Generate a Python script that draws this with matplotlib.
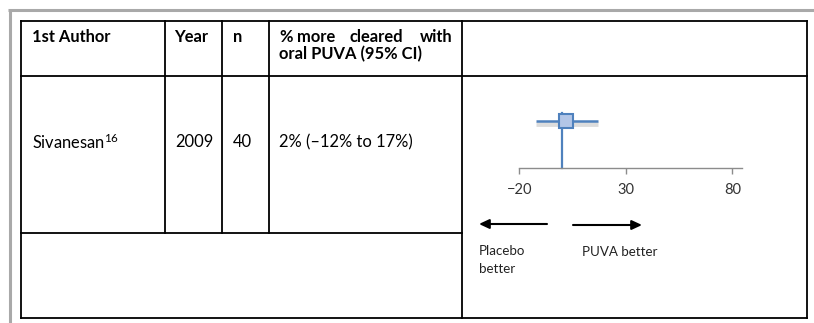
import matplotlib
matplotlib.use("Agg")
import matplotlib.pyplot as plt
import matplotlib.transforms as mtransforms

plt.rcParams["font.family"] = ["Lato", "DejaVu Sans"]
plt.rcParams["mathtext.fontset"] = "custom"
plt.rcParams["mathtext.rm"] = "Lato"

# Table content
header_author = "1st Author"
header_year = "Year"
header_n = "n"
header_effect = ["% more cleared with", "oral PUVA (95% CI)"]
authors = ["Sivanesan"]
author_refs = ["16"]
years = ["2009"]
sizes = ["40"]
effect_text = ["2% (\u201312% to 17%)"]

# Forest plot values (percent more cleared)
estimates = [2]
ci_low = [-12]
ci_high = [17]
null_value = 0
x_ticks = [-20, 30, 80]
x_limits = (-20, 84.4)
left_label = "Placebo\nbetter"
right_label = "PUVA better"

W, H = 814, 323
fig = plt.figure(figsize=(W / 100, H / 100), dpi=100)
fig.patch.set_facecolor("white")

# Full-figure canvas in pixel units for the table grid
tab = fig.add_axes([0, 0, 1, 1])
tab.set_xlim(0, W)
tab.set_ylim(H, 0)
tab.axis("off")

gray = "#a9a9a9"
tab.plot([8, W], [10, 10], color=gray, lw=2.2, solid_capstyle="butt")
tab.plot([9.5, 9.5], [9, H], color=gray, lw=2.2, solid_capstyle="butt")

cols = [21.3, 164.7, 221.7, 269.3, 461.7, 807.0]
rows = [21.3, 75.5, 232.7, 318.0]
lw_grid = 1.3
kw = dict(color="black", lw=lw_grid, solid_capstyle="projecting")
# outer frame
tab.plot([cols[0], cols[-1]], [rows[0], rows[0]], **kw)
tab.plot([cols[0], cols[-1]], [rows[-1], rows[-1]], **kw)
tab.plot([cols[0], cols[0]], [rows[0], rows[-1]], **kw)
tab.plot([cols[-1], cols[-1]], [rows[0], rows[-1]], **kw)
# header rule
tab.plot([cols[0], cols[-1]], [rows[1], rows[1]], **kw)
# data row bottom (left block only; plot cell spans two rows)
tab.plot([cols[0], cols[4]], [rows[2], rows[2]], **kw)
# column rules
for cx in cols[1:4]:
    tab.plot([cx, cx], [rows[0], rows[2]], **kw)
tab.plot([cols[4], cols[4]], [rows[0], rows[-1]], **kw)

fs = 11.9
hdr = dict(fontsize=fs, fontweight="bold", va="center", color="black")
tab.text(32, 36.5, header_author, ha="left", **hdr)
tab.text(174, 36.5, header_year, ha="left", **hdr)
tab.text(233, 36.5, header_n, ha="left", **hdr)
# justified first header line
words = header_effect[0].split(" ")
word_x = [279.3, 297.0, 349.5, 452.3]
word_ha = ["left", "left", "left", "right"]
for wx, wd, h in zip(word_x, words, word_ha):
    tab.text(wx, 36.5, wd, ha=h, **hdr)
tab.text(279.3, 54.5, header_effect[1], ha="left", **hdr)

body = dict(fontsize=fs, va="center", ha="left", color="black")
row_y = [142]
for i, y in enumerate(row_y):
    tab.text(32, y, authors[i] + r"$\mathregular{^{" + author_refs[i] + "}}$", **body)
    tab.text(175, y, years[i], **body)
    tab.text(233, y, sizes[i], **body)
    tab.text(279.3, y, effect_text[i], **body)

# Direction arrows and captions
arrow_kw = dict(arrowstyle="-|>,head_length=0.6,head_width=0.28", color="black", lw=1.5,
                shrinkA=0, shrinkB=0)
tab.annotate("", xy=(479, 224), xytext=(547, 224), arrowprops=arrow_kw)
tab.annotate("", xy=(642, 225), xytext=(573, 225), arrowprops=arrow_kw)
small = dict(fontsize=9.6, va="center", ha="left", color="#222222", linespacing=1.65)
tab.text(479, 260, left_label, **small)
tab.text(582, 251.5, right_label, **small)

# Forest plot
x0, x1 = 519.3, 741.7
y_axis, y_top = 167.7, 113.0
ax = fig.add_axes([x0 / W, (H - y_axis) / H, (x1 - x0) / W, (y_axis - y_top) / H])
ax.set_xlim(*x_limits)
ax.set_ylim(0, 1)
ax.patch.set_alpha(0)
for s in ["top", "right", "left"]:
    ax.spines[s].set_visible(False)
ax.spines["bottom"].set_color("#8c8c8c")
ax.spines["bottom"].set_linewidth(1.0)
ax.set_yticks([])
ax.set_xticks(x_ticks)
ax.set_xticklabels([f"{t}".replace("-", "\u2212") for t in x_ticks])
ax.tick_params(axis="x", direction="out", length=4, width=1.0, color="#8c8c8c",
               labelsize=10.5, labelcolor="#333333", pad=7)

blue = "#4f81bd"
ax.plot([null_value, null_value], [0, 1], color=blue, lw=1.6, clip_on=False)

row_pos = [0.854]
shadow = mtransforms.offset_copy(ax.transData, fig=fig, x=0, y=-3.5, units="dots")
for est, lo, hi, yp in zip(estimates, ci_low, ci_high, row_pos):
    ax.plot([lo, hi], [yp, yp], color="#d4d4d4", lw=3.5, alpha=0.8,
            transform=shadow, clip_on=False, solid_capstyle="butt")
    ax.plot([lo, hi], [yp, yp], color=blue, lw=1.8, clip_on=False, solid_capstyle="butt")
    ax.plot([est], [yp], marker="s", markersize=10, markerfacecolor="#b3c6e7",
            markeredgecolor=blue, markeredgewidth=1.5, clip_on=False, zorder=5)

fig.savefig("out.png", dpi=100, facecolor="white")
